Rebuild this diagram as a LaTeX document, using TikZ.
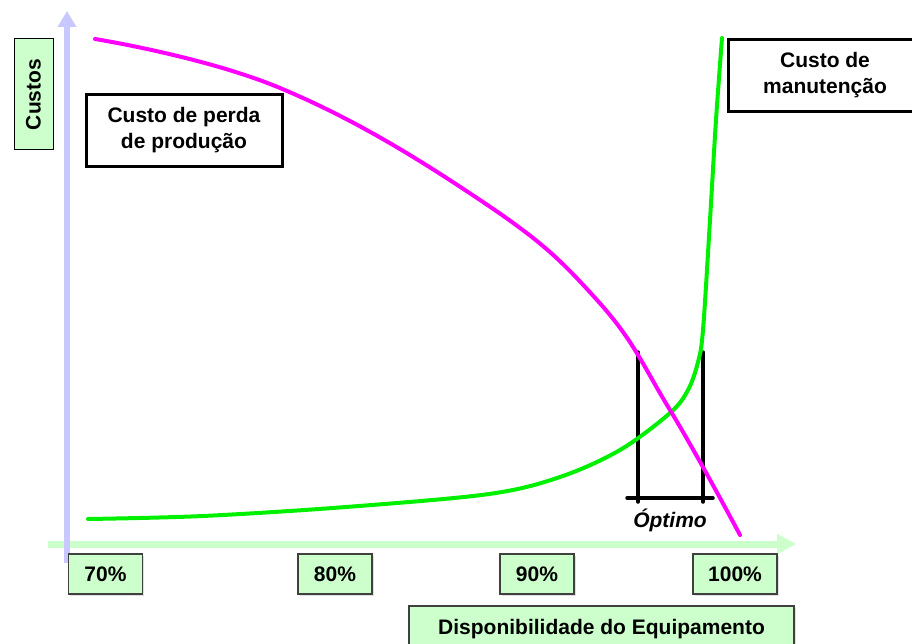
\documentclass[tikz,border=0pt]{standalone}
\usepackage{fontspec}
\setmainfont{Liberation Sans}
\usetikzlibrary{arrows.meta,shadows}
\definecolor{axisy}{HTML}{C8C8FF}
\definecolor{axisx}{HTML}{CCFFCC}
\definecolor{boxgreen}{HTML}{CCFFCC}
\definecolor{curvemag}{HTML}{FF00FF}
\definecolor{curvegreen}{HTML}{00F000}
\tikzset{
  lbl/.style={font=\fontsize{21}{26}\selectfont\bfseries, align=center, inner sep=0pt},
  whitebox/.style={lbl, draw=black, line width=3pt, fill=white,
    drop shadow={shadow xshift=1.5pt, shadow yshift=-1.5pt, fill=gray!50}},
  tickbox/.style={lbl, draw=black!75, line width=1.5pt, fill=boxgreen,
    minimum height=40pt, minimum width=74pt,
    drop shadow={shadow xshift=1.5pt, shadow yshift=-1.5pt, fill=gray!50}},
  curve/.style={line width=4pt, line cap=round, line join=round},
  brack/.style={line width=3.5pt, black, line cap=round}
}
\begin{document}
\begin{tikzpicture}[x=1pt,y=-1pt]
\useasboundingbox (0,0) rectangle (912,644);
% axes
\coordinate (xs) at (48,544);
\coordinate (xe) at (796,544);
\coordinate (ys) at (67,563);
\coordinate (ye) at (67,11);
\draw[axisx, line width=7pt, -{Triangle[length=19pt,width=19pt]}] (xs) -- (xe);
\draw[axisy, line width=6pt, -{Triangle[length=16pt,width=18pt]}] (ys) -- (ye);
% optimum bracket
\coordinate (bl1) at (638,352);
\coordinate (bl2) at (638,502);
\coordinate (br1) at (703,352);
\coordinate (br2) at (703,502);
\coordinate (bh1) at (627,498);
\coordinate (bh2) at (713,498);
\draw[brack] (bl1) -- (bl2);
\draw[brack] (br1) -- (br2);
\draw[brack] (bh1) -- (bh2);
% curves
\draw[curve, curvegreen] plot[smooth, tension=0.55] coordinates {
  (88,519) (203,516) (346,507) (489,494) (560,477) (620,450) (670,413)
  (688,390) (698,362) (703,330) (710,220) (716,120) (722,38)};
\draw[curve, curvemag] plot[smooth, tension=0.7] coordinates {
  (95,39) (280,88) (480,200) (597,300) (670,410) (740,535)};
% labels
\node[lbl, draw=black, line width=1pt, fill=boxgreen, rotate=90,
  minimum width=111pt, minimum height=39pt] (custos) at (33.5,94.5) {Custos};
\node[whitebox, minimum width=196pt, minimum height=72pt] (perda) at (184,130.5)
  {Custo de perda\\de produção};
\node[whitebox, minimum width=194pt, minimum height=72pt] (manut) at (825,75.5)
  {Custo de\\manutenção};
\node[lbl, font=\fontsize{21}{24}\selectfont\bfseries\itshape] (otimo) at (670,520) {Óptimo};
\node[tickbox] (t70) at (105.5,574) {70\%};
\node[tickbox] (t80) at (335,574) {80\%};
\node[tickbox] (t90) at (537,574) {90\%};
\node[tickbox, minimum width=84pt] (t100) at (735,574) {100\%};
\node[tickbox, minimum width=385pt, minimum height=46pt] (disp) at (601.5,629)
  {Disponibilidade do Equipamento};
\end{tikzpicture}
\end{document}
